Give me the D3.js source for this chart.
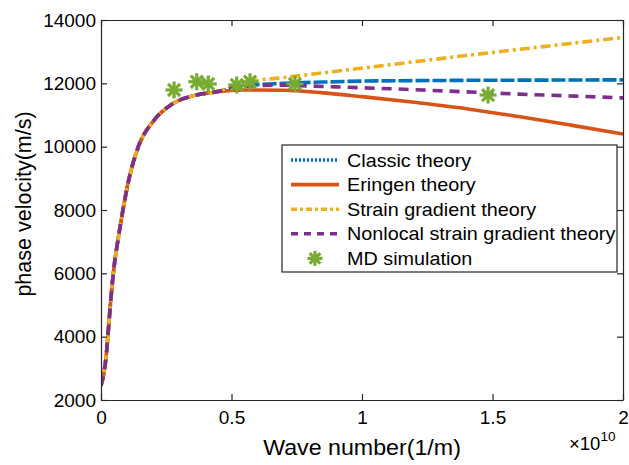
<!DOCTYPE html>
<html><head><meta charset="utf-8">
<script src="https://cdn.jsdelivr.net/npm/d3@7"></script>
<style>body{margin:0;background:#fff}svg{display:block}text{font-family:"Liberation Sans",Arial,sans-serif;fill:#000}</style>
</head><body><svg id="c" width="629" height="465"></svg>
<script>
// wave number in units of 1e10 (1/m)
const kShared = [0, 0.01, 0.02, 0.03, 0.04, 0.05, 0.065, 0.083, 0.105, 0.143, 0.2, 0.27, 0.36, 0.44];
const vShared = [2450, 2800, 3400, 4400, 5400, 6200, 7050, 7950, 8900, 10000, 10800, 11330, 11620, 11730];

const kTail = [0.55, 0.7, 0.85, 1.0, 1.2, 1.4, 1.6, 1.8, 2.0];
const classicTail = [11930, 12000, 12040, 12070, 12085, 12095, 12100, 12105, 12110];
const eringenTail = [11790, 11780, 11700, 11580, 11400, 11200, 10950, 10680, 10400];
const strainTail  = [12030, 12180, 12330, 12480, 12680, 12880, 13070, 13260, 13450];
const nonlocalTail= [11910, 11940, 11900, 11860, 11800, 11730, 11660, 11600, 11540];

const mdK = [0.28, 0.367, 0.411, 0.52, 0.571, 0.743, 1.483];
const mdV = [11790, 12050, 11980, 11950, 12050, 11980, 11630];

const xTicks = [0, 0.5, 1, 1.5, 2];
const yTicks = [2000, 4000, 6000, 8000, 10000, 12000, 14000];

const seriesNames = ["Classic theory", "Eringen theory", "Strain gradient theory", "Nonlocal strain gradient theory", "MD simulation"];
const colors = ["#0072BD", "#D95319", "#EDB120", "#7E2F8E", "#77AC30"];

const svg = d3.select("#c");
const L = 101, R = 623, T = 20, B = 400;
const x = d3.scaleLinear().domain([0, 2]).range([L, R]);
const y = d3.scaleLinear().domain([2000, 14000]).range([B, T]);

function pts(tail) {
  return kShared.map((k, i) => [k, vShared[i]]).concat(kTail.map((k, i) => [k, tail[i]]));
}
const line = d3.line().x(d => x(d[0])).y(d => y(d[1])).curve(d3.curveMonotoneX);

svg.append("clipPath").attr("id", "clp").append("rect")
  .attr("x", L).attr("y", T).attr("width", R - L).attr("height", B - T);
const g = svg.append("g").attr("clip-path", "url(#clp)");

const styles = [
  {data: classicTail, dash: "14,3"},
  {data: eringenTail, dash: null},
  {data: strainTail, dash: "10,4,3,4"},
  {data: nonlocalTail, dash: "10,7"}
];
styles.forEach((s, i) => {
  g.append("path").attr("d", line(pts(s.data)))
    .attr("fill", "none").attr("stroke", colors[i]).attr("stroke-width", 3.6)
    .attr("stroke-dasharray", s.dash);
});

function star(sel, cx, cy, r) {
  const gg = sel.append("g").attr("transform", `translate(${cx},${cy})`)
    .attr("stroke", colors[4]).attr("stroke-width", 3.2);
  for (let a = 0; a < 4; a++) {
    const ang = a * Math.PI / 4;
    gg.append("line").attr("x1", -r * Math.sin(ang)).attr("y1", -r * Math.cos(ang))
      .attr("x2", r * Math.sin(ang)).attr("y2", r * Math.cos(ang));
  }
}
mdK.forEach((k, i) => star(svg, x(k), y(mdV[i]), 8.5));

// axes (MATLAB style box with inward ticks)
const axc = "#262626";
const xa = svg.append("g").attr("transform", `translate(0,${B})`)
  .call(d3.axisBottom(x).tickValues(xTicks).tickSizeInner(-6).tickSizeOuter(0).tickPadding(11).tickFormat(d => d));
const xt = svg.append("g").attr("transform", `translate(0,${T})`)
  .call(d3.axisTop(x).tickValues(xTicks).tickSizeInner(-6).tickSizeOuter(0).tickFormat(""));
const ya = svg.append("g").attr("transform", `translate(${L},0)`)
  .call(d3.axisLeft(y).tickValues(yTicks).tickSizeInner(-6).tickSizeOuter(0).tickPadding(5).tickFormat(d => d));
const yr = svg.append("g").attr("transform", `translate(${R},0)`)
  .call(d3.axisRight(y).tickValues(yTicks).tickSizeInner(-6).tickSizeOuter(0).tickFormat(""));
[xa, xt, ya, yr].forEach(a => {
  a.selectAll("path").attr("stroke", axc).attr("stroke-width", 1.2);
  a.selectAll("line").attr("stroke", axc).attr("stroke-width", 1.2);
  a.selectAll("text").attr("font-size", 19).style("font-family", '"Liberation Sans",Arial,sans-serif').attr("fill", "#000");
});

svg.append("text").attr("transform", `translate(${(L + R) / 2},455) scale(1.08,1)`).attr("text-anchor", "middle")
  .attr("font-size", 21.5).text("Wave number(1/m)");
svg.append("text").attr("transform", `translate(31,204) rotate(-90)`)
  .attr("text-anchor", "middle").attr("font-size", 21.5).text("phase velocity(m/s)");
const ex = svg.append("text").attr("x", 569).attr("y", 450).attr("font-size", 18.5);
ex.append("tspan").text("\u00d710");
ex.append("tspan").attr("font-size", 13.5).attr("dy", -9).text("10");

// legend
const lg = svg.append("g");
lg.append("rect").attr("x", 282).attr("y", 145).attr("width", 335).attr("height", 127)
  .attr("fill", "#fff").attr("stroke", axc).attr("stroke-width", 1.2);
const legDash = ["2,2", null, "6,3,3,3", "7,6"];
seriesNames.forEach((n, i) => {
  const yy = 160 + i * 24.6;
  if (i < 4) {
    lg.append("line").attr("x1", 291).attr("x2", 339).attr("y1", yy).attr("y2", yy)
      .attr("stroke", colors[i]).attr("stroke-width", 3.6).attr("stroke-dasharray", legDash[i]);
  } else {
    star(lg, 315, yy, 7.5);
  }
  lg.append("text").attr("transform", `translate(347,${yy + 6.5}) scale(1.1,1)`).attr("font-size", 18).text(n);
});
</script></body></html>
